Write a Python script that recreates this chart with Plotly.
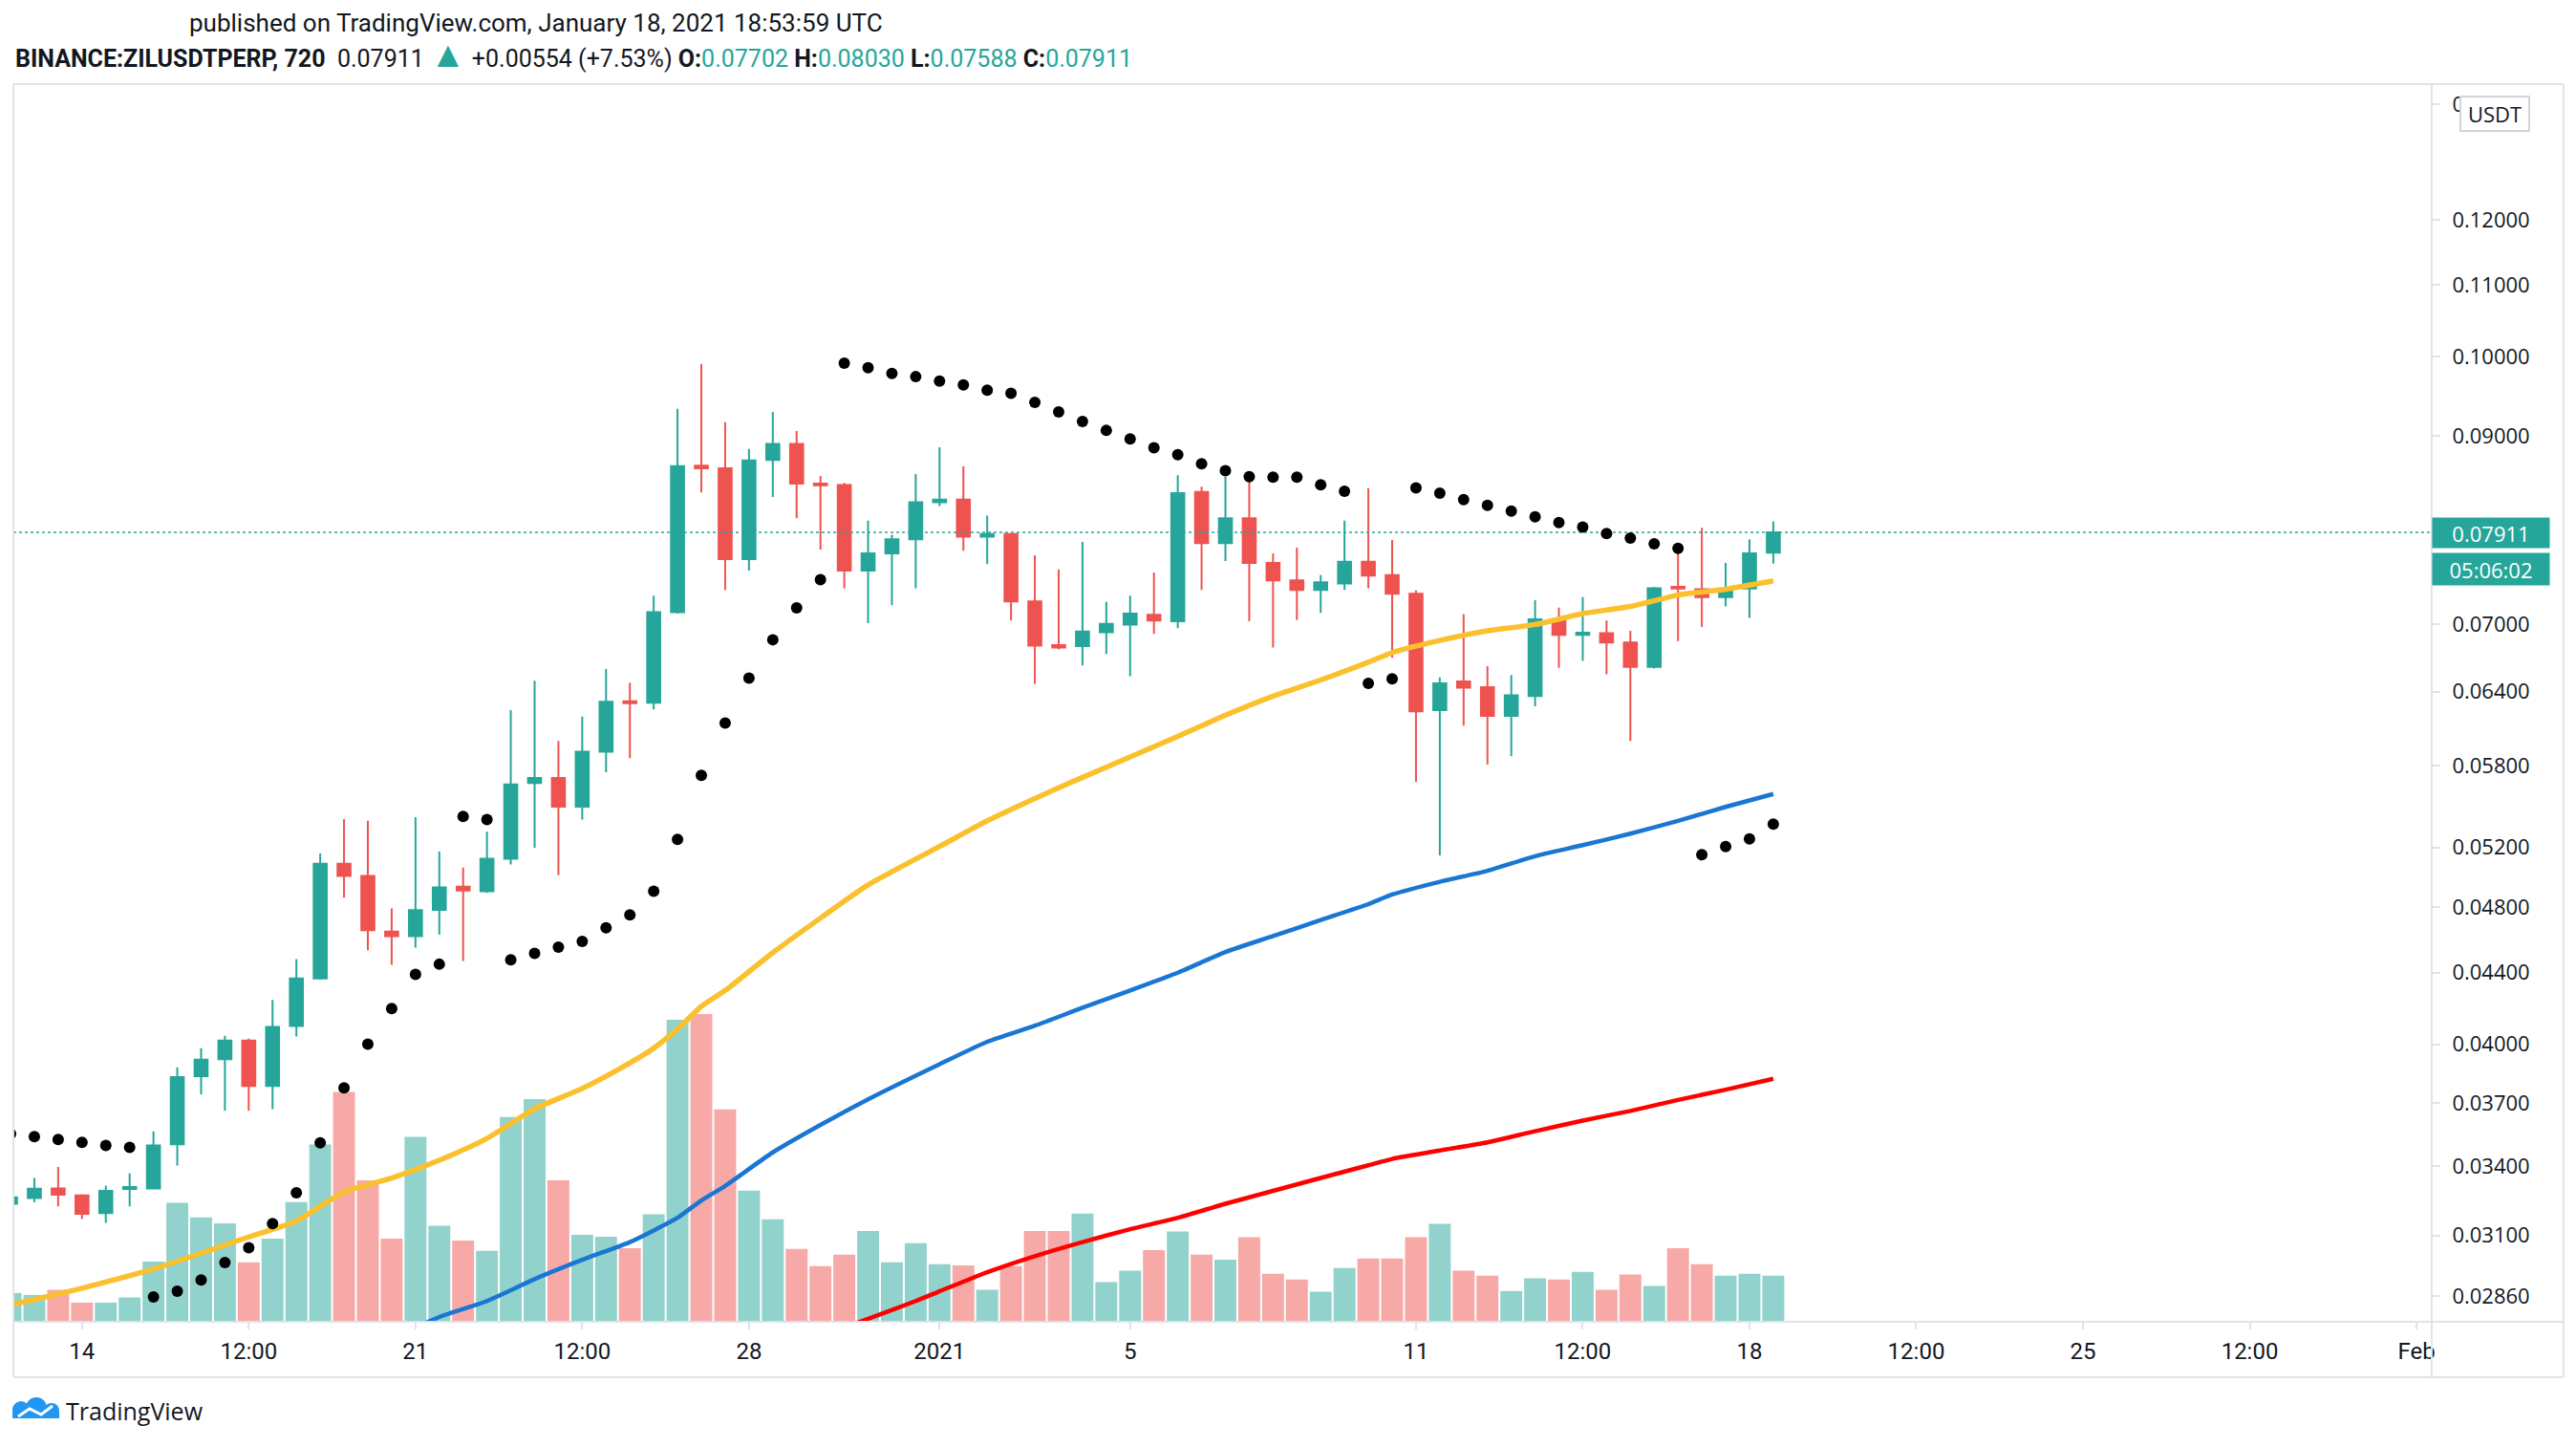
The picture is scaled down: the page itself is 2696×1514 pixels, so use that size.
import math

import pandas as pd
import plotly.graph_objects as go

UP = "#26a69a"
DOWN = "#ef5350"
UP_VOL = "rgba(38, 166, 154, 0.5)"
DOWN_VOL = "rgba(239, 83, 80, 0.5)"
FRAME = "#e0e3eb"
TEXT = "#131722"

# 12h candles, BINANCE:ZILUSDTPERP
DATES = pd.date_range("2020-12-12 12:00", periods=75, freq="12h")

OPEN = [0.03234, 0.03259, 0.03301, 0.03270, 0.03194, 0.03298, 0.03301, 0.03501, 0.03833, 0.03921,
        0.04020, 0.03784, 0.04099, 0.04367, 0.05087, 0.05006, 0.04648, 0.04620, 0.04785, 0.04935,
        0.04905, 0.05122, 0.05665, 0.05703, 0.05489, 0.05907, 0.06318, 0.06306, 0.07113, 0.08648,
        0.08618, 0.07635, 0.08714, 0.08902, 0.08444, 0.08428, 0.07519, 0.07694, 0.07840, 0.08237,
        0.08265, 0.07867, 0.07894, 0.07217, 0.06809, 0.06800, 0.06927, 0.06998, 0.07089, 0.07028,
        0.08350, 0.07800, 0.08063, 0.07596, 0.07422, 0.07328, 0.07391, 0.07609, 0.07473, 0.07291,
        0.06243, 0.06487, 0.06438, 0.06195, 0.06361, 0.07046, 0.06903, 0.06917, 0.06833, 0.06613,
        0.07357, 0.07335, 0.07258, 0.07341, 0.07702]
HIGH = [0.03275, 0.03347, 0.03396, 0.03275, 0.03313, 0.03367, 0.03562, 0.03879, 0.03979, 0.04045,
        0.04030, 0.04243, 0.04480, 0.05157, 0.05400, 0.05387, 0.04793, 0.05414, 0.05170, 0.05061,
        0.05309, 0.06243, 0.06493, 0.05993, 0.06190, 0.06594, 0.06476, 0.07273, 0.09329, 0.09904,
        0.09164, 0.08841, 0.09290, 0.09055, 0.08530, 0.08450, 0.08036, 0.07887, 0.08552, 0.08863,
        0.08640, 0.08091, 0.07900, 0.07675, 0.07531, 0.07813, 0.07212, 0.07273, 0.07500, 0.08538,
        0.08407, 0.08521, 0.08472, 0.07694, 0.07752, 0.07473, 0.08036, 0.08392, 0.07832, 0.07322,
        0.06521, 0.07096, 0.06621, 0.06543, 0.07229, 0.07156, 0.07258, 0.07035, 0.06939, 0.07357,
        0.07752, 0.07961, 0.07596, 0.07840, 0.08030]
LOW = [0.03220, 0.03240, 0.03223, 0.03169, 0.03153, 0.03223, 0.03296, 0.03403, 0.03742, 0.03660,
       0.03660, 0.03669, 0.04041, 0.04360, 0.04863, 0.04534, 0.04446, 0.04550, 0.04628, 0.04469,
       0.04893, 0.05083, 0.05197, 0.05010, 0.05396, 0.05748, 0.05856, 0.06249, 0.07100, 0.08343,
       0.07328, 0.07519, 0.08294, 0.08063, 0.07734, 0.07341, 0.07011, 0.07180, 0.07345, 0.08195,
       0.07721, 0.07583, 0.07035, 0.06466, 0.06770, 0.06627, 0.06729, 0.06532, 0.06910, 0.06963,
       0.07328, 0.07615, 0.07028, 0.06787, 0.07040, 0.07107, 0.07328, 0.07345, 0.06694, 0.05674,
       0.05144, 0.06116, 0.05807, 0.05871, 0.06275, 0.06605, 0.06666, 0.06549, 0.05993, 0.06599,
       0.06844, 0.06975, 0.07168, 0.07059, 0.07588]
CLOSE = [0.03262, 0.03299, 0.03273, 0.03191, 0.03290, 0.03307, 0.03495, 0.03829, 0.03919, 0.04020,
         0.03784, 0.04093, 0.04367, 0.05087, 0.05006, 0.04656, 0.04620, 0.04782, 0.04930, 0.04909,
         0.05122, 0.05655, 0.05703, 0.05489, 0.05907, 0.06313, 0.06302, 0.07113, 0.08641, 0.08618,
         0.07635, 0.08707, 0.08902, 0.08444, 0.08423, 0.07519, 0.07694, 0.07840, 0.08237, 0.08265,
         0.07867, 0.07894, 0.07217, 0.06804, 0.06787, 0.06933, 0.07003, 0.07101, 0.07035, 0.08336,
         0.07800, 0.08063, 0.07596, 0.07422, 0.07328, 0.07403, 0.07609, 0.07468, 0.07291, 0.06233,
         0.06470, 0.06432, 0.06195, 0.06367, 0.07046, 0.06903, 0.06921, 0.06833, 0.06613, 0.07345,
         0.07341, 0.07258, 0.07341, 0.07694, 0.07911]

# volume, millions of ZIL (estimated)
VOLUME = [9.0, 8.4, 10.0, 6.0, 6.0, 7.6, 18.8, 37.2, 32.6, 30.8,
          18.6, 26.0, 37.4, 55.4, 71.8, 44.2, 26.0, 57.8, 30.0, 25.4,
          22.2, 64.0, 69.6, 44.2, 27.2, 26.6, 23.0, 33.6, 94.4, 96.2,
          66.4, 41.0, 32.0, 22.8, 17.4, 21.0, 28.4, 18.6, 24.6, 18.0,
          17.6, 10.0, 17.4, 28.4, 28.4, 33.8, 12.4, 16.0, 22.4, 28.2,
          21.0, 19.4, 26.4, 15.0, 13.2, 9.4, 16.8, 19.8, 19.8, 26.4,
          30.6, 16.0, 14.4, 9.6, 13.6, 13.2, 15.6, 10.0, 14.8, 11.2,
          23.0, 18.0, 14.4, 15.0, 14.4]

# parabolic SAR
SAR = [0.03550, 0.03537, 0.03523, 0.03510, 0.03495, 0.03486, 0.02856, 0.02878, 0.02922, 0.02990,
       0.03050, 0.03150, 0.03282, 0.03507, 0.03774, 0.04000, 0.04195, 0.04390, 0.04450, 0.05418,
       0.05396, 0.04476, 0.04515, 0.04553, 0.04588, 0.04672, 0.04752, 0.04904, 0.05255, 0.05723,
       0.06137, 0.06515, 0.06857, 0.07155, 0.07429, 0.09912, 0.09853, 0.09778, 0.09736, 0.09678,
       0.09629, 0.09563, 0.09523, 0.09409, 0.09290, 0.09171, 0.09063, 0.08962, 0.08857, 0.08774,
       0.08669, 0.08589, 0.08522, 0.08516, 0.08516, 0.08429, 0.08357, 0.06470, 0.06509, 0.08394,
       0.08336, 0.08265, 0.08202, 0.08140, 0.08077, 0.08015, 0.07967, 0.07900, 0.07853, 0.07793,
       0.07746, 0.05149, 0.05206, 0.05259, 0.05363]

# moving averages, read at selected candles (index into DATES)
MA_FAST_IDX = [0, 3, 6, 10, 12, 14, 16, 18, 20, 22, 24, 26, 27, 28, 29, 30, 32, 34, 36, 39,
               41, 43, 45, 47, 49, 51, 53, 55, 57, 58, 60, 62, 64, 66, 68, 70, 72, 74]
MA_FAST = [0.02826, 0.02890, 0.02965, 0.03094, 0.03161, 0.03285, 0.03347, 0.03427, 0.03528, 0.03670,
           0.03771, 0.03902, 0.03979, 0.04082, 0.04207, 0.04297, 0.04519, 0.04732, 0.04946, 0.05206,
           0.05387, 0.05550, 0.05708, 0.05866, 0.06029, 0.06201, 0.06361, 0.06499, 0.06655, 0.06741,
           0.06851, 0.06939, 0.06998, 0.07101, 0.07168, 0.07278, 0.07335, 0.07417]
MA_MID_IDX = [16, 18, 20, 22, 24, 26, 27, 28, 29, 30, 32, 34, 36, 39, 41, 43, 45, 47, 49, 51,
              53, 55, 57, 58, 60, 62, 64, 66, 68, 70, 72, 74]
MA_MID = [0.02704, 0.02781, 0.02841, 0.02925, 0.03001, 0.03073, 0.03121, 0.03174, 0.03248, 0.03312,
          0.03463, 0.03592, 0.03717, 0.03895, 0.04013, 0.04100, 0.04199, 0.04297, 0.04400, 0.04523,
          0.04620, 0.04720, 0.04821, 0.04883, 0.04967, 0.05040, 0.05139, 0.05215, 0.05296, 0.05387,
          0.05488, 0.05583]
MA_SLOW_IDX = [34, 36, 38, 39, 41, 43, 45, 47, 49, 51, 53, 55, 57, 58, 60, 62, 64, 66, 68, 70, 72, 74]
MA_SLOW = [0.02711, 0.02774, 0.02841, 0.02878, 0.02952, 0.03016, 0.03073, 0.03126, 0.03174, 0.03234,
           0.03290, 0.03347, 0.03404, 0.03433, 0.03472, 0.03510, 0.03562, 0.03613, 0.03660, 0.03714,
           0.03765, 0.03820]

PRICE_TICKS = [0.0286, 0.031, 0.034, 0.037, 0.040, 0.044, 0.048, 0.052, 0.058, 0.064,
               0.070, 0.090, 0.100, 0.110, 0.120, 0.140]
TIME_TICKS = ["2020-12-14", "2020-12-17 12:00", "2020-12-21", "2020-12-24 12:00", "2020-12-28",
              "2021-01-01", "2021-01-05", "2021-01-11", "2021-01-14 12:00", "2021-01-18",
              "2021-01-21 12:00", "2021-01-25", "2021-01-28 12:00", "2021-02-01"]
TIME_LABELS = ["14", "12:00", "21", "12:00", "28", "2021", "5", "11", "12:00", "18",
               "12:00", "25", "12:00", "Feb"]

X_RANGE = ["2020-12-12 13:26", "2021-02-01 07:41"]
PRICE_RANGE = [0.027633, 0.14378]
VOLUME_TOP = 386.8

LAST_PRICE = CLOSE[-1]
COUNTDOWN = "05:06:02"

# page layout in pixels (the page body adds an 8px margin)
BODY = 8
W, H = 2696 - 2 * BODY, 1514 - 2 * BODY
PL, PR, PT, PB = 14, 2545, 88, 1383


def px(x, y):
    """Page pixel -> paper coordinates (for decorations only)."""
    return (x - PL) / (PR - PL), (PB - y) / (PB - PT)


fig = go.Figure()

vol_colors = [UP_VOL if c >= o else DOWN_VOL for o, c in zip(OPEN, CLOSE)]
fig.add_trace(go.Bar(
    x=DATES,
    y=VOLUME,
    marker=dict(color=vol_colors, line=dict(width=0)),
    width=0.92 * 12 * 3600 * 1000,
    yaxis="y",
    hoverinfo="skip",
))

for idx, vals, color, lw in [
    (MA_SLOW_IDX, MA_SLOW, "#ff0000", 4.5),
    (MA_MID_IDX, MA_MID, "#1976d2", 4.5),
    (MA_FAST_IDX, MA_FAST, "#fbc02d", 5.5),
]:
    fig.add_trace(go.Scatter(
        x=[DATES[i] for i in idx],
        y=vals,
        mode="lines",
        line=dict(color=color, width=lw, shape="spline", smoothing=0.6),
        yaxis="y2",
        hoverinfo="skip",
    ))

fig.add_trace(go.Scatter(
    x=X_RANGE,
    y=[LAST_PRICE, LAST_PRICE],
    mode="lines",
    line=dict(color=UP, width=1.5, dash="dot"),
    yaxis="y2",
    hoverinfo="skip",
))

fig.add_trace(go.Candlestick(
    x=DATES,
    open=OPEN,
    high=HIGH,
    low=LOW,
    close=CLOSE,
    yaxis="y2",
    increasing=dict(line=dict(color=UP, width=2), fillcolor=UP),
    decreasing=dict(line=dict(color=DOWN, width=2), fillcolor=DOWN),
    whiskerwidth=0,
))

fig.add_trace(go.Scatter(
    x=DATES,
    y=SAR,
    mode="markers",
    marker=dict(color="#000000", size=12),
    yaxis="y2",
    hoverinfo="skip",
))

# frame lines
x_end, _ = px(2683, 0)
_, y_axis_bottom = px(0, 1441)
shapes = []
for y in (1.0, 0.0, y_axis_bottom):
    shapes.append(dict(type="line", xref="paper", yref="paper", x0=0, x1=x_end, y0=y, y1=y,
                       line=dict(color=FRAME, width=2)))
for x in (0.0, 1.0, x_end):
    shapes.append(dict(type="line", xref="paper", yref="paper", x0=x, x1=x, y0=y_axis_bottom, y1=1,
                       line=dict(color=FRAME, width=2)))

# TradingView logo (cloud)
for cx, cy, r in [(22, 1475, 9), (38, 1473, 11), (54, 1476, 8)]:
    x0, y0 = px(cx - r, cy + r)
    x1, y1 = px(cx + r, cy - r)
    shapes.append(dict(type="circle", xref="paper", yref="paper", x0=x0, x1=x1, y0=y0, y1=y1,
                       fillcolor="#2196f3", line=dict(width=0)))
rx0, ry0 = px(13, 1484)
rx1, ry1 = px(62, 1476)
shapes.append(dict(type="rect", xref="paper", yref="paper", x0=rx0, x1=rx1, y0=ry0, y1=ry1,
                   fillcolor="#2196f3", line=dict(width=0)))
pts = [px(19, 1482), px(31, 1474), px(43, 1480), px(55, 1471)]
path = "M " + " L ".join(f"{a:.5f},{b:.5f}" for a, b in pts)
shapes.append(dict(type="path", xref="paper", yref="paper", path=path,
                   line=dict(color="white", width=3)))

head_font = "Liberation Sans Narrow, Roboto, sans-serif"
ax_font = "Open Sans, sans-serif"

t1x, t1y = px(196, 24)
t2x, t2y = px(14, 57)
usx, usy = px(2611, 119)
lgx, lgy = px(67, 1476)

price_str = f"{LAST_PRICE:.5f}"
header = (
    f"<b>BINANCE:ZILUSDTPERP, 720</b>  {price_str} "
    f"<span style='color:{UP};font-size:38px'>▲</span> +0.00554 (+7.53%) "
    f"<b>O:</b><span style='color:{UP}'>{OPEN[-1]:.5f}</span> "
    f"<b>H:</b><span style='color:{UP}'>{HIGH[-1]:.5f}</span> "
    f"<b>L:</b><span style='color:{UP}'>{LOW[-1]:.5f}</span> "
    f"<b>C:</b><span style='color:{UP}'>{CLOSE[-1]:.5f}</span>"
)

annotations = [
    dict(text="published on TradingView.com, January 18, 2021 18:53:59 UTC", x=t1x, y=t1y,
         xref="paper", yref="paper", xanchor="left", yanchor="middle", showarrow=False,
         font=dict(family=head_font, size=26, color=TEXT)),
    dict(text=header, x=t2x, y=t2y, xref="paper", yref="paper", xanchor="left", yanchor="middle",
         showarrow=False, font=dict(family=head_font, size=25, color=TEXT)),
    dict(text="USDT", x=usx, y=usy, xref="paper", yref="paper", xanchor="center", yanchor="middle",
         showarrow=False, bgcolor="white", bordercolor="#d1d4dc", borderwidth=2, borderpad=3,
         width=64, height=28, font=dict(family=ax_font, size=22, color=TEXT)),
    dict(text=price_str, x=1, y=math.log10(LAST_PRICE), xref="paper", yref="y2",
         xanchor="left", yanchor="middle", showarrow=False, bgcolor=UP, width=118, height=27,
         borderpad=2, font=dict(family=ax_font, size=22, color="white")),
    dict(text=COUNTDOWN, x=1, y=math.log10(LAST_PRICE), yshift=-38, xref="paper", yref="y2",
         xanchor="left", yanchor="middle", showarrow=False, bgcolor=UP, width=118, height=29,
         borderpad=2, font=dict(family=ax_font, size=22, color="white")),
    dict(text="TradingView", x=lgx, y=lgy, xref="paper", yref="paper", xanchor="left",
         yanchor="middle", showarrow=False, font=dict(family=ax_font, size=25, color=TEXT)),
]

fig.update_layout(
    width=W,
    height=H,
    margin=dict(l=PL - BODY, r=W - (PR - BODY), t=PT - BODY, b=H - (PB - BODY)),
    paper_bgcolor="white",
    plot_bgcolor="white",
    showlegend=False,
    boxgap=0.22,
    xaxis=dict(
        type="date",
        range=X_RANGE,
        rangeslider=dict(visible=False),
        showgrid=False,
        zeroline=False,
        showline=False,
        tickvals=TIME_TICKS,
        ticktext=TIME_LABELS,
        ticks="outside",
        ticklen=7,
        tickwidth=2,
        tickcolor=FRAME,
        ticklabelstandoff=2,
        tickfont=dict(family=head_font, size=24, color=TEXT),
    ),
    yaxis=dict(range=[0, VOLUME_TOP], visible=False, fixedrange=True),
    yaxis2=dict(
        type="log",
        overlaying="y",
        side="right",
        range=[math.log10(PRICE_RANGE[0]), math.log10(PRICE_RANGE[1])],
        tickvals=PRICE_TICKS,
        ticktext=[f"{v:.5f}" for v in PRICE_TICKS],
        ticks="outside",
        ticklen=8,
        tickwidth=2,
        tickcolor=FRAME,
        ticklabelstandoff=8,
        showgrid=False,
        zeroline=False,
        showline=False,
        tickfont=dict(family=ax_font, size=22, color=TEXT),
    ),
    shapes=shapes,
    annotations=annotations,
)

fig.write_html("out.html")
